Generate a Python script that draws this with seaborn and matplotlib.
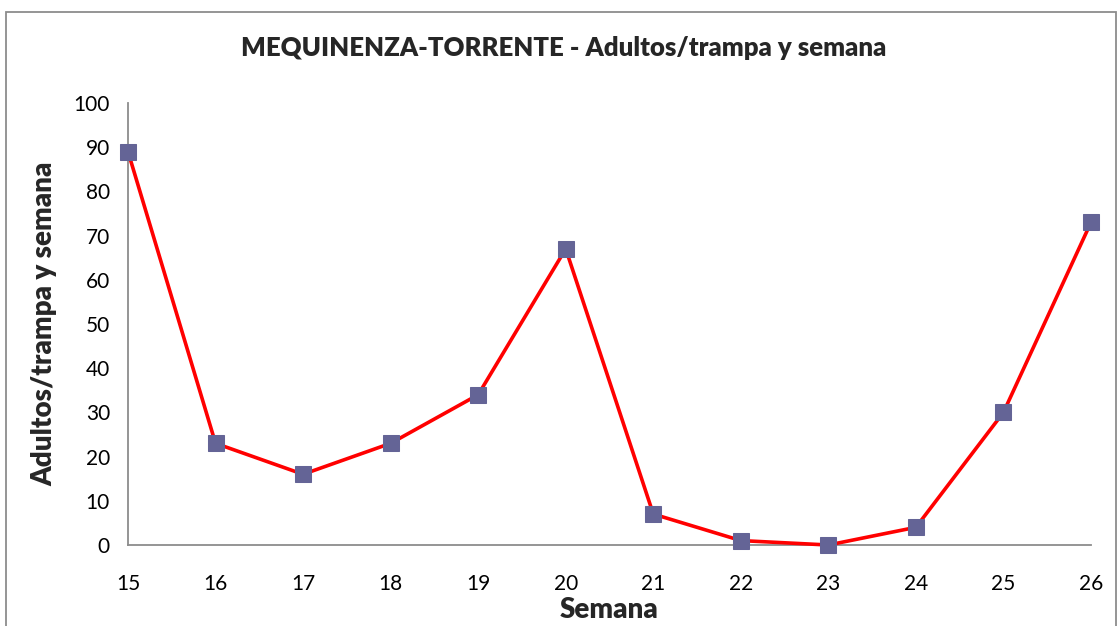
import matplotlib.pyplot as plt
import seaborn as sns
import pandas as pd
from matplotlib.patches import Rectangle

sns.set_style("white")
plt.rcParams['font.family'] = ['Lato', 'DejaVu Sans']

semanas = [15, 16, 17, 18, 19, 20, 21, 22, 23, 24, 25, 26]
adultos = [89, 23, 16, 23, 34, 67, 7, 1, 0, 4, 30, 73]
y_ticks = [0, 10, 20, 30, 40, 50, 60, 70, 80, 90, 100]

df = pd.DataFrame({'Semana': semanas, 'Adultos': adultos})

W, H = 1119, 626
fig = plt.figure(figsize=(W / 100, H / 100), dpi=100)
ax = fig.add_axes([128 / W, (H - 545) / H, (1091 - 128) / W, (545 - 103) / H])

sns.lineplot(data=df, x='Semana', y='Adultos', ax=ax, color='#ff0000', linewidth=2.6,
             marker='s', markersize=11.5, markerfacecolor='#646496',
             markeredgecolor='#646496', zorder=3, clip_on=False)

ax.set_xlim(15, 26)
ax.set_ylim(0, 100)
ax.set_xticks(semanas)
ax.set_yticks(y_ticks)
for side in ['top', 'right']:
    ax.spines[side].set_visible(False)
for side in ['left', 'bottom']:
    ax.spines[side].set_color('#8c8c8c')
    ax.spines[side].set_linewidth(1.3)
ax.tick_params(axis='both', direction='inout', length=14, width=1.2, color='#8c8c8c',
               labelsize=15, labelcolor='black')
ax.tick_params(axis='x', pad=14)
ax.tick_params(axis='y', pad=6)

ax.set_xlabel('Semana', fontsize=20, fontweight='heavy', labelpad=2)
ax.set_ylabel('Adultos/trampa y semana', fontsize=20, fontweight='heavy', labelpad=12)
fig.text(564 / W, 1 - 48 / H, 'MEQUINENZA-TORRENTE - Adultos/trampa y semana',
         ha='center', va='center', fontsize=18.5, fontweight='heavy')

fig.patches.append(Rectangle((6 / W, -0.05), (1116 - 6) / W, 1.05 - 12 / H,
                             transform=fig.transFigure, fill=False,
                             edgecolor='#8c8c8c', linewidth=1.3))

fig.savefig('out.png', dpi=100)
